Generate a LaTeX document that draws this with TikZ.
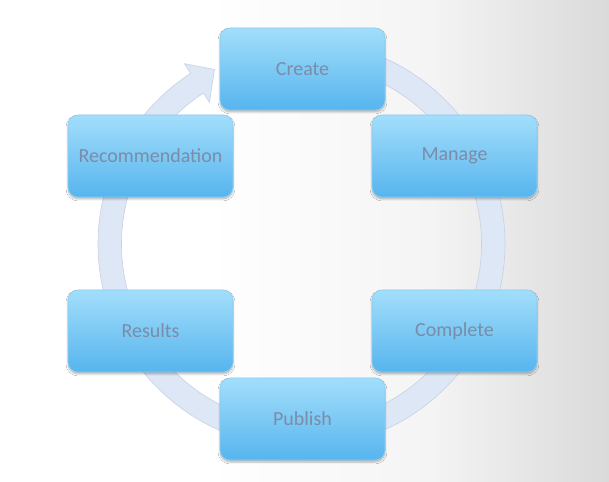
\documentclass[tikz,border=0pt]{standalone}
\usepackage{fontspec}
\setmainfont{Carlito}
\usetikzlibrary{shadows.blur}
\definecolor{boxtop}{HTML}{A3DEFB}
\definecolor{boxbot}{HTML}{56B5EE}
\definecolor{boxline}{HTML}{8ACCF2}
\definecolor{txt}{HTML}{7B8CA8}
\definecolor{ringfill}{HTML}{DEE7F6}
\definecolor{ringline}{HTML}{C8D1E2}
\definecolor{bgmid}{HTML}{F4F4F4}
\definecolor{bggray}{HTML}{DADADA}
\newcommand{\lowtext}[1]{\raisebox{-1.5pt}{#1}}
\tikzset{
  stagebox/.style={rectangle, rounded corners=10pt, minimum width=165pt, minimum height=82pt,
    top color=boxtop, bottom color=boxbot, draw=boxline, line width=0.6pt,
    text=txt, font=\fontsize{20}{24}\selectfont,
    blur shadow={shadow blur steps=6, shadow xshift=0pt, shadow yshift=-2pt, shadow opacity=30}},
  ring/.style={fill=ringfill, draw=ringline, line width=0.6pt}
}
\begin{document}
\begin{tikzpicture}[x=1pt,y=1pt]
\useasboundingbox (0,0) rectangle (609,481);
\fill[white] (0,0) rectangle (609,481);
\shade[left color=white, right color=bgmid] (210,0) rectangle (430.5,481);
\shade[left color=bgmid, right color=bggray] (430,0) rectangle (609,481);
\begin{scope}[shift={(301.5,237)}]
\path[ring] (85:203.5) arc[start angle=85, end angle=-237, radius=203.5]
  -- (-237:215) -- (-243.5:195) -- (-237:169) -- (-237:180)
  arc[start angle=-237, end angle=85, radius=180] -- cycle;
\end{scope}
\node[stagebox] (create) at (302.5,412) {\lowtext{Create}};
\node[stagebox] (manage) at (454.5,325) {\lowtext{Manage}};
\node[stagebox] (complete) at (454.5,150) {\lowtext{Complete}};
\node[stagebox] (publish) at (302.5,62) {\lowtext{Publish}};
\node[stagebox] (results) at (150.5,150) {\lowtext{Results}};
\node[stagebox] (recommendation) at (150.5,325) {\lowtext{Recommendation}};
\end{tikzpicture}
\end{document}
